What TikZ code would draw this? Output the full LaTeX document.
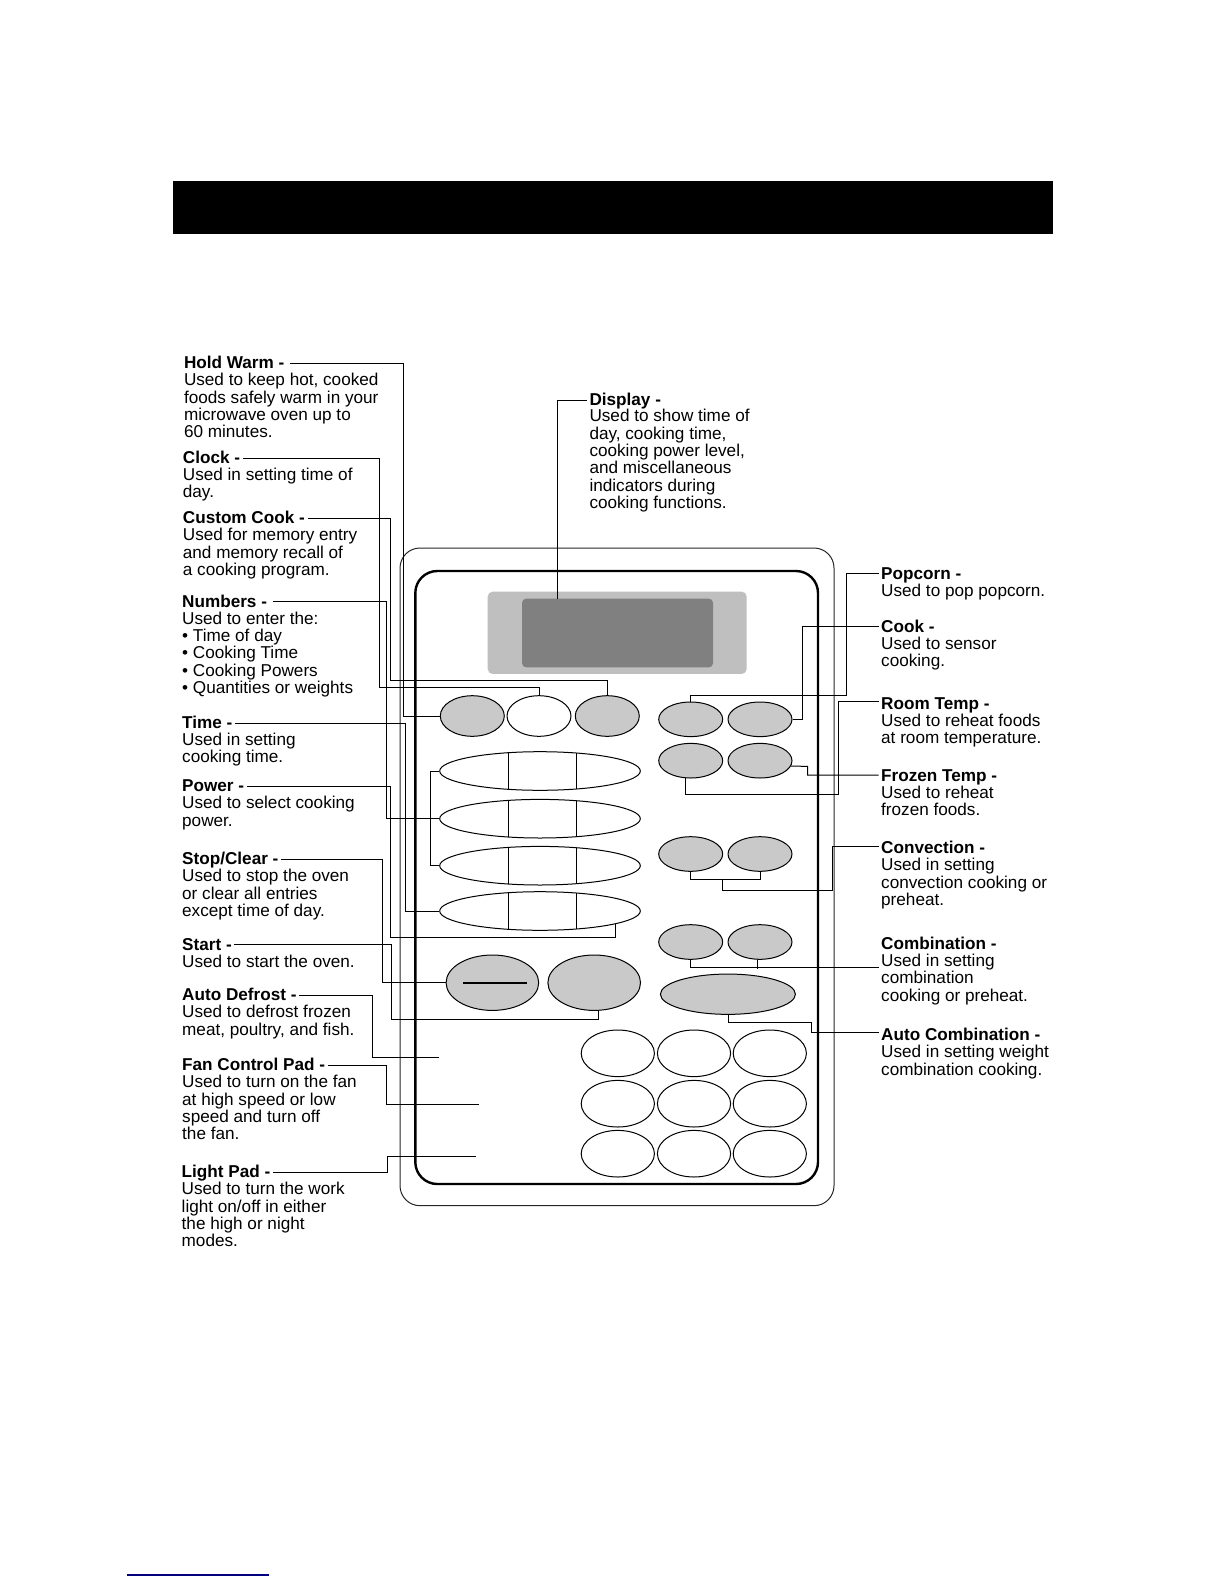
\documentclass[tikz,border=0pt]{standalone}
\usepackage{fontspec}
\setmainfont{Liberation Sans}
\usetikzlibrary{shapes.geometric}

\definecolor{keygray}{gray}{0.79}
\definecolor{panelgray}{gray}{0.75}
\definecolor{screengray}{gray}{0.5}
\definecolor{linkblue}{rgb}{0,0,0.5}

\tikzset{
    headtext/.style={anchor=west,inner sep=0pt,text height=13pt,text depth=2pt,
        font=\fontsize{17.15}{17.3}\selectfont\bfseries},
    bodytext/.style={anchor=north west,inner sep=0pt,align=left,yshift=-2.2pt,
        font=\fontsize{17.15}{17.3}\selectfont,execute at begin node=\strut},
    leader/.style={line width=1pt},
    headleader/.style={leader,shorten <=2.5pt},
    smallkey/.style={ellipse,draw,line width=1pt,fill=keygray,inner sep=0pt,
        minimum width=64pt,minimum height=34.6pt},
    topkey/.style={smallkey,minimum height=40.6pt},
    numkey/.style={ellipse,draw,line width=1pt,fill=white,inner sep=0pt,
        minimum width=200.6pt,minimum height=38.6pt},
    bigkey/.style={ellipse,draw,line width=1pt,fill=keygray,inner sep=0pt,
        minimum width=92.6pt,minimum height=55.4pt},
    padkey/.style={ellipse,draw,line width=1pt,fill=white,inner sep=0pt,
        minimum width=73.2pt,minimum height=46.6pt},
}

\begin{document}
\begin{tikzpicture}[
    x=1pt,
    y=-1pt,
]

\useasboundingbox (0,0) rectangle (1224,1584);

% Title bar
\fill[black] (173,181) rectangle (1053,234);

% Front panel
\draw[black!85,line width=1pt,rounded corners=20pt] (400,548) rectangle (834,1205.7);
\draw[black,line width=2.4pt,rounded corners=22pt] (415.3,571) rectangle (818,1184);

% Display
\node[fill=panelgray,rounded corners=5pt,inner sep=0pt,minimum width=259pt,minimum height=82.3pt] (panel) at (617.2,632.8) {};
\node[fill=screengray,rounded corners=4pt,inner sep=0pt,minimum width=191pt,minimum height=68.6pt] (screen) at (617.5,633) {};

% Top row
\node[topkey] (holdkey) at (472.3,716) {};
\node[topkey,fill=white] (clockkey) at (539,716) {};
\node[topkey] (customkey) at (607.3,716) {};

% Number bars
\node[numkey] (numA) at (540,771) {};
\node[numkey] (numB) at (540,818.7) {};
\node[numkey] (numC) at (540,865.7) {};
\node[numkey] (numD) at (540,911) {};
\draw[leader] (508,752.8) -- (508,789.2);
\draw[leader] (576.7,752.8) -- (576.7,789.2);
\draw[leader] (508,800.5) -- (508,836.9);
\draw[leader] (576.7,800.5) -- (576.7,836.9);
\draw[leader] (508,847.5) -- (508,883.9);
\draw[leader] (576.7,847.5) -- (576.7,883.9);
\draw[leader] (508,892.8) -- (508,929.2);
\draw[leader] (576.7,892.8) -- (576.7,929.2);

% Right hand keys
\node[smallkey] (popcornkey) at (690.7,719.3) {};
\node[smallkey] (cookkey) at (760,719.3) {};
\node[smallkey] (roomkey) at (690.7,760.7) {};
\node[smallkey] (frozenkey) at (760,760.7) {};
\node[smallkey] (convleft) at (690.7,854) {};
\node[smallkey] (convright) at (760,854) {};
\node[smallkey] (combleft) at (690.7,942) {};
\node[smallkey] (combright) at (760,942) {};

% Stop, start and auto combination
\node[bigkey] (stopkey) at (492.4,982.7) {};
\node[bigkey] (startkey) at (594.2,982.7) {};
\node[ellipse,draw,line width=1pt,fill=keygray,inner sep=0pt,minimum width=135pt,minimum height=40.3pt] (autocombkey) at (727.9,994.2) {};
\draw[line width=2pt] ([xshift=-29.4pt]stopkey.center) -- ([xshift=34.6pt]stopkey.center);

% Keypad
\node[padkey] (padA) at (617.8,1053.3) {};
\node[padkey] (padB) at (694,1053.3) {};
\node[padkey] (padC) at (769.8,1053.3) {};
\node[padkey] (padD) at (617.8,1103.7) {};
\node[padkey] (padE) at (694,1103.7) {};
\node[padkey] (padF) at (769.8,1103.7) {};
\node[padkey] (padG) at (617.8,1153.7) {};
\node[padkey] (padH) at (694,1153.7) {};
\node[padkey] (padI) at (769.8,1153.7) {};

% Free ends of the leaders
\coordinate (defrostpad) at (439.4,1057.3);
\coordinate (fanpad) at (478.5,1104.3);
\coordinate (lightpad) at (475.6,1156.3);

% Left labels
\node[headtext] (holdhead) at (183.8,363.3) {Hold Warm -};
\node[bodytext] (holdtext) at (holdhead.south west) {Used to keep hot, cooked\\foods safely warm in your\\microwave oven up to\\60 minutes.};

\node[headtext] (clockhead) at (182.7,458) {Clock -};
\node[bodytext] (clocktext) at (clockhead.south west) {Used in setting time of\\day.};

\node[headtext] (customhead) at (182.7,518.3) {Custom Cook -};
\node[bodytext] (customtext) at (customhead.south west) {Used for memory entry\\and memory recall of\\a cooking program.};

\node[headtext] (numbershead) at (182,601.7) {Numbers -};
\node[bodytext] (numberstext) at (numbershead.south west) {Used to enter the:\\• Time of day\\• Cooking Time\\• Cooking Powers\\• Quantities or weights};

\node[headtext] (timehead) at (182,723.3) {Time -};
\node[bodytext,yshift=0.6pt] (timetext) at (timehead.south west) {Used in setting\\cooking time.};

\node[headtext] (powerhead) at (182,786.3) {Power -};
\node[bodytext] (powertext) at (powerhead.south west) {Used to select cooking\\power.};

\node[headtext] (stophead) at (182,859.3) {Stop/Clear -};
\node[bodytext] (stoptext) at (stophead.south west) {Used to stop the oven\\or clear all entries\\except time of day.};

\node[headtext] (starthead) at (182,944.5) {Start -};
\node[bodytext] (starttext) at (starthead.south west) {Used to start the oven.};

\node[headtext] (defrosthead) at (182,995.3) {Auto Defrost -};
\node[bodytext] (defrosttext) at (defrosthead.south west) {Used to defrost frozen\\meat, poultry, and fish.};

\node[headtext] (fanhead) at (182,1065.3) {Fan Control Pad -};
\node[bodytext] (fantext) at (fanhead.south west) {Used to turn on the fan\\at high speed or low\\speed and turn off\\the fan.};

\node[headtext] (lighthead) at (181.5,1172.3) {Light Pad -};
\node[bodytext] (lighttext) at (lighthead.south west) {Used to turn the work\\light on/off in either\\the high or night\\modes.};

% Top label
\node[headtext] (displayhead) at (589.3,400.3) {Display -};
\node[bodytext,yshift=1pt] (displaytext) at (displayhead.south west) {Used to show time of\\day, cooking time,\\cooking power level,\\and miscellaneous\\indicators during\\cooking functions.};

% Right labels
\node[headtext] (popcornhead) at (881,574.3) {Popcorn -};
\node[bodytext] (popcorntext) at (popcornhead.south west) {Used to pop popcorn.};

\node[headtext] (cookhead) at (881,626.7) {Cook -};
\node[bodytext] (cooktext) at (cookhead.south west) {Used to sensor\\cooking.};

\node[headtext] (roomhead) at (881,703.7) {Room Temp -};
\node[bodytext] (roomtext) at (roomhead.south west) {Used to reheat foods\\at room temperature.};

\node[headtext] (frozenhead) at (881,776) {Frozen Temp -};
\node[bodytext] (frozentext) at (frozenhead.south west) {Used to reheat\\frozen foods.};

\node[headtext] (convhead) at (881,848.3) {Convection -};
\node[bodytext] (convtext) at (convhead.south west) {Used in setting\\convection cooking or\\preheat.};

\node[headtext] (combhead) at (881,944) {Combination -};
\node[bodytext] (combtext) at (combhead.south west) {Used in setting\\combination\\cooking or preheat.};

\node[headtext] (autocombhead) at (881,1035.2) {Auto Combination -};
\node[bodytext] (autocombtext) at (autocombhead.south west) {Used in setting weight\\combination cooking.};

% Left leaders
\draw[headleader,shorten <=5pt] (holdhead.east) -| (403.5,500) |- (holdkey.west);
\draw[headleader] (clockhead.east) -| (379.7,687.3) -| (clockkey.north);
\draw[headleader] (customhead.east) -| (390.3,680.3) -| (customkey.north);
\draw[headleader,shorten <=6pt] (numbershead.east) -| (386.5,700) |- (numB.west);
\draw[leader] (numA.west) -- ++(-9,0) |- (numC.west);
\draw[headleader] (timehead.east) -| (405.3,800) |- (numD.west);
\draw[headleader] (powerhead.east) -| (390.5,937.3) -| (numD.-10.8);
\draw[headleader] (stophead.east) -| (382.3,900) |- (stopkey.west);
\draw[headleader] (starthead.east) -| (391,1019.3) -| (startkey.279);
\draw[headleader] (defrosthead.east) -| (372.5,1057.3) -- (defrostpad);
\draw[headleader] (fanhead.east) -| (386.7,1104.3) -- (fanpad);
\draw[headleader] (lighthead.east) -| (387.6,1156.3) -- (lightpad);

% Display leader
\draw[headleader] (displayhead.west) -| ([xshift=-60.2pt]screen.north);

% Right leaders
\draw[headleader] ([yshift=1pt]popcornhead.west) -| (846,695) -| (popcornkey.north);
\draw[headleader] (cookhead.west) -| (802.5,680) |- (cookkey.east);
\draw[headleader] ([yshift=2pt]roomhead.west) -| (838.7,794.3) -| (roomkey.252);
\draw[headleader] ([yshift=1pt]frozenhead.west) -| (807.5,766.3) -- (frozenkey.-10.5);
\draw[leader] (convleft.south) -- ++(0,8) -| (convright.south);
\draw[headleader] ([yshift=2pt]convhead.west) -| (832.3,890.3) -| (722.3,879.3);
\draw[leader] ([xshift=-2.4pt,yshift=12.4pt]combtext.west) -| (combleft.south);
\draw[leader] (combright.262) -- ++(0,9);
\draw[headleader] ([yshift=2.5pt]autocombhead.west) -| (811.4,1022.7) -| (autocombkey.273);

% Link rule at the foot of the page
\draw[linkblue,line width=1.2pt] (127.3,1575) -- (269,1575);

\end{tikzpicture}
\end{document}
